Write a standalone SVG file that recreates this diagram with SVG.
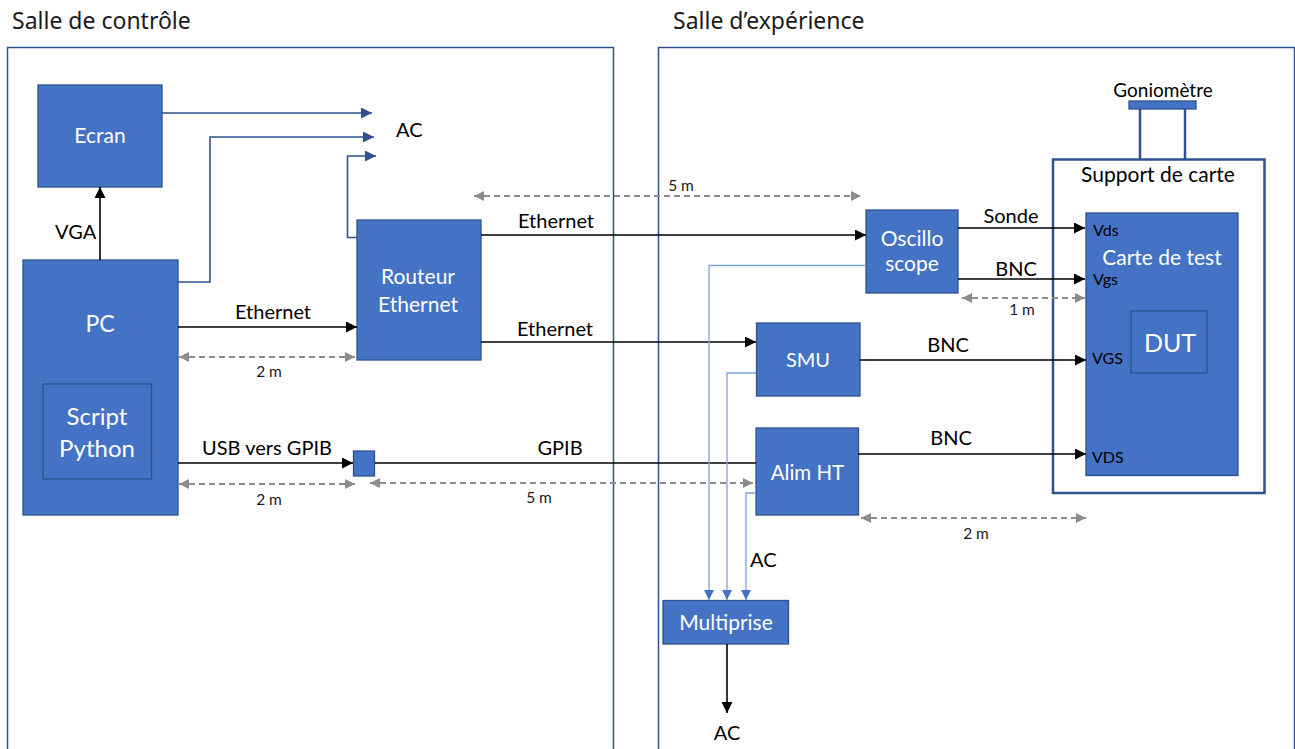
<svg xmlns="http://www.w3.org/2000/svg" width="1295" height="749" viewBox="0 0 1295 749">
<style>
  .room{fill:none;stroke:#2F528F;stroke-width:1.5}
  .box{fill:#4472C4;stroke:#2F528F;stroke-width:1.3}
  .title{font-family:"Noto Sans",sans-serif;font-size:23px;fill:#1a1a1a}
  .lbl{font-family:Lato,"Liberation Sans",sans-serif;font-size:20px;fill:#000}
  .small{font-family:Lato,"Liberation Sans",sans-serif;font-size:15.5px;fill:#1a1a1a}
  .pin{font-family:Lato,"Liberation Sans",sans-serif;font-size:16px;fill:#000}
  .wt{font-family:Lato,"Liberation Sans",sans-serif;font-size:21px;fill:#fff;text-anchor:middle}
  .c{text-anchor:middle}
  .blk{fill:none;stroke:#000;stroke-width:1.6;marker-end:url(#ab)}
  .acb{fill:none;stroke:#2F528F;stroke-width:1.6;marker-end:url(#au)}
  .lb{fill:none;stroke:#7FA0DC;stroke-width:1.3;marker-end:url(#al)}
  .dim{fill:none;stroke:#8C8C8C;stroke-width:2;stroke-dasharray:6 4;marker-start:url(#ag);marker-end:url(#ag)}
</style>
<defs>
  <marker id="ab" markerUnits="userSpaceOnUse" markerWidth="12" markerHeight="12" refX="11" refY="5.5" orient="auto"><path d="M0,0 L11,5.5 L0,11 z" fill="#000"/></marker>
  <marker id="au" markerUnits="userSpaceOnUse" markerWidth="12" markerHeight="12" refX="11" refY="5.5" orient="auto"><path d="M0,0 L11,5.5 L0,11 z" fill="#2F528F"/></marker>
  <marker id="al" markerUnits="userSpaceOnUse" markerWidth="11" markerHeight="11" refX="10" refY="5" orient="auto"><path d="M0,0 L10,5 L0,10 z" fill="#4472C4"/></marker>
  <marker id="ag" markerUnits="userSpaceOnUse" markerWidth="11" markerHeight="11" refX="10" refY="5" orient="auto-start-reverse"><path d="M0,0 L10,5 L0,10 z" fill="#8C8C8C"/></marker>
</defs>

<g id="salle-controle">
  <rect class="room" x="7.5" y="47.5" width="606" height="710"/>
  <text class="title" x="12" y="29">Salle de contrôle</text>
</g>
<g id="salle-experience">
  <rect class="room" x="658.5" y="47.5" width="636" height="710"/>
  <text class="title" x="673" y="29">Salle d’expérience</text>
</g>

<g id="ecran">
  <rect class="box" x="38" y="85" width="124" height="102"/>
  <text class="wt" x="100" y="143">Ecran</text>
</g>
<g id="pc">
  <rect class="box" x="23" y="260" width="155" height="255"/>
  <text class="wt" x="100" y="331.5" style="font-size:23px">PC</text>
  <rect class="box" x="43" y="384" width="108.5" height="95"/>
  <text class="wt" x="97" y="425" style="font-size:24px">Script</text>
  <text class="wt" x="97" y="457" style="font-size:24px">Python</text>
</g>
<g id="routeur">
  <rect class="box" x="357" y="220" width="124" height="140"/>
  <text class="wt" x="418" y="284">Routeur</text>
  <text class="wt" x="418" y="311.5">Ethernet</text>
</g>
<g id="gpib-adaptateur">
  <rect class="box" x="353.5" y="451" width="21" height="25"/>
</g>
<g id="oscilloscope">
  <rect class="box" x="866" y="210" width="92" height="83"/>
  <text class="wt" x="912" y="245.5">Oscillo</text>
  <text class="wt" x="912" y="271">scope</text>
</g>
<g id="smu">
  <rect class="box" x="756.5" y="323" width="103.5" height="73"/>
  <text class="wt" x="808" y="366.5" style="font-size:20px">SMU</text>
</g>
<g id="alim-ht">
  <rect class="box" x="756" y="428" width="102.5" height="87"/>
  <text class="wt" x="807.5" y="480" style="font-size:20.5px">Alim HT</text>
</g>
<g id="multiprise">
  <rect class="box" x="663" y="600.5" width="125.5" height="43.5"/>
  <text class="wt" x="726" y="630">Multiprise</text>
</g>
<g id="goniometre">
  <line x1="1140" y1="109" x2="1140" y2="159" stroke="#2F528F" stroke-width="2.5"/>
  <line x1="1185" y1="109" x2="1185" y2="159" stroke="#2F528F" stroke-width="2.5"/>
  <rect class="box" x="1129" y="101" width="67" height="8"/>
  <text class="lbl c" x="1163" y="96.5" style="font-size:19px">Goniomètre</text>
</g>
<g id="support-carte">
  <rect x="1053" y="159.5" width="211.5" height="333.5" fill="#fff" stroke="#2F528F" stroke-width="2.5"/>
  <text class="lbl c" x="1158" y="181.5" style="font-size:21px">Support de carte</text>
</g>
<g id="carte-test">
  <rect class="box" x="1086" y="213" width="152" height="262.5"/>
  <text class="wt" x="1162" y="265">Carte de test</text>
  <text class="pin" x="1093" y="235.5">Vds</text>
  <text class="pin" x="1093" y="285">Vgs</text>
  <text class="pin" x="1092" y="364">VGS</text>
  <text class="pin" x="1092" y="463">VDS</text>
</g>
<g id="dut">
  <rect class="box" x="1131" y="311" width="76" height="62"/>
  <text class="wt" x="1170" y="351.5" style="font-size:25px">DUT</text>
</g>

<g id="connectors">
  <path class="acb" d="M162,113 H372"/>
  <path class="acb" d="M178,282 H210 V137 H374"/>
  <path class="acb" d="M357,237.5 H347.5 V156 H376"/>
  <path class="blk" d="M100,260 V187"/>
  <path class="blk" d="M178,327 H357"/>
  <path class="blk" d="M481,235 H866"/>
  <path class="blk" d="M481,342 H756"/>
  <path class="blk" d="M178,463 H353"/>
  <path fill="none" stroke="#000" stroke-width="1.6" d="M375,463 H756"/>
  <path class="blk" d="M958,228 H1085"/>
  <path class="blk" d="M958,279 H1085"/>
  <path class="blk" d="M860,360 H1086"/>
  <path class="blk" d="M858,454 H1086"/>
  <path class="blk" d="M727,644 V713"/>
  <path class="lb" d="M866,265.5 H709 V600"/>
  <path class="lb" d="M756,373 H727 V600"/>
  <path class="lb" d="M756,493 H746 V600"/>
  <path class="dim" d="M474,196 H861"/>
  <path class="dim" d="M179,357 H355"/>
  <path class="dim" d="M179,484 H355"/>
  <path class="dim" d="M370,483 H753"/>
  <path class="dim" d="M962,298 H1085"/>
  <path class="dim" d="M861,518 H1086"/>
  <text class="lbl" x="396" y="137">AC</text>
  <text class="lbl" x="55" y="238.5">VGA</text>
  <text class="lbl c" x="273" y="318.5">Ethernet</text>
  <text class="lbl c" x="556" y="227.5">Ethernet</text>
  <text class="lbl c" x="555" y="336">Ethernet</text>
  <text class="lbl c" x="267" y="455">USB vers GPIB</text>
  <text class="lbl c" x="560" y="455">GPIB</text>
  <text class="lbl c" x="1011" y="223">Sonde</text>
  <text class="lbl c" x="1016" y="276">BNC</text>
  <text class="lbl c" x="948" y="351.5">BNC</text>
  <text class="lbl c" x="951" y="445">BNC</text>
  <text class="lbl" x="750" y="567">AC</text>
  <text class="lbl c" x="727" y="739.5">AC</text>
  <text class="small c" x="681" y="190.5">5 m</text>
  <text class="small c" x="269" y="377">2 m</text>
  <text class="small c" x="269" y="505">2 m</text>
  <text class="small c" x="539" y="502.5">5 m</text>
  <text class="small c" x="1022" y="315">1 m</text>
  <text class="small c" x="976" y="538.5">2 m</text>
</g>
</svg>
